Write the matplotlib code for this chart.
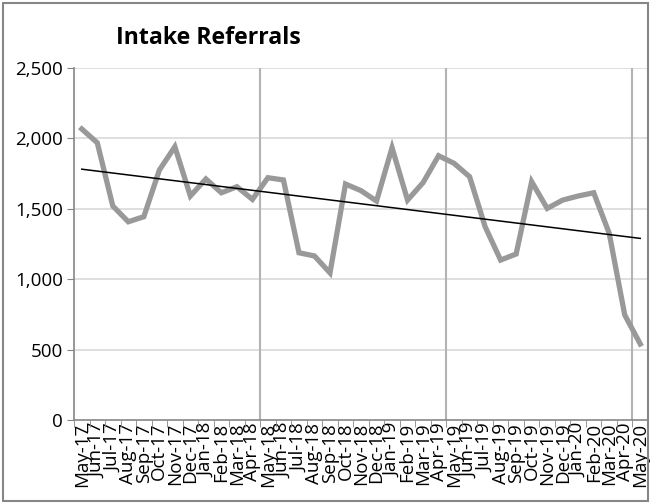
import numpy as np
import matplotlib
matplotlib.use("Agg")
import matplotlib.pyplot as plt
from matplotlib.patches import Rectangle

# monthly intake referrals, May-17 .. May-20
months = ["May-17", "Jun-17", "Jul-17", "Aug-17", "Sep-17", "Oct-17", "Nov-17", "Dec-17",
          "Jan-18", "Feb-18", "Mar-18", "Apr-18", "May-18", "Jun-18", "Jul-18", "Aug-18",
          "Sep-18", "Oct-18", "Nov-18", "Dec-18", "Jan-19", "Feb-19", "Mar-19", "Apr-19",
          "May-19", "Jun-19", "Jul-19", "Aug-19", "Sep-19", "Oct-19", "Nov-19", "Dec-19",
          "Jan-20", "Feb-20", "Mar-20", "Apr-20", "May-20"]
referrals = [2067, 1969, 1520, 1408, 1444, 1775, 1941, 1591,
             1712, 1614, 1657, 1567, 1721, 1705, 1188, 1165,
             1045, 1676, 1629, 1555, 1934, 1562, 1686, 1877,
             1823, 1728, 1373, 1136, 1179, 1693, 1503, 1562,
             1591, 1614, 1326, 746, 540]
y_ticks = [0, 500, 1000, 1500, 2000, 2500]

plt.rcParams["font.family"] = ["Open Sans", "DejaVu Sans"]

fig = plt.figure(figsize=(6.51, 5.04), dpi=100)
ax = fig.add_axes([0.1137, 0.1667, 0.8817, 0.6983])

x = np.arange(len(months))
ax.plot(x, referrals, color="#999999", lw=3.8, solid_joinstyle="miter", zorder=3)

# linear trend line over the series
k, b = np.polyfit(x, referrals, 1)
ax.plot(x, k * x + b, color="black", lw=1.1, zorder=4)

ax.set_xlim(-0.5, len(months) - 0.5)
ax.set_ylim(0, 2500)
ax.set_yticks(y_ticks)
ax.set_yticklabels([f"{v:,}" for v in y_ticks], fontsize=13.5)

# category labels at centres, tick marks at the boundaries (Excel style)
ax.set_xticks(x)
ax.set_xticklabels(months, rotation=90, fontsize=13.5)
ax.tick_params(axis="x", which="major", length=0, pad=2)
ax.set_xticks(np.arange(-0.5, len(months)), minor=True)
ax.tick_params(axis="x", which="minor", length=5, color="#868686", direction="out")
ax.tick_params(axis="y", length=5, color="#868686", direction="out", pad=3)

for v in y_ticks[1:]:
    ax.axhline(v, color="#d9d9d9", lw=1.2, zorder=1)
for v in (11.5, 23.5, 35.5):
    ax.axvline(v, color="#b3b3b3", lw=1.5, zorder=1)

for side in ("top", "right"):
    ax.spines[side].set_visible(False)
for side in ("left", "bottom"):
    ax.spines[side].set_color("#868686")
    ax.spines[side].set_linewidth(1.2)

fig.text(0.178, 0.925, "Intake Referrals", fontsize=16.7, fontweight="bold", va="center")
fig.patches.append(Rectangle((0.004, 0.006), 0.992, 0.988, transform=fig.transFigure,
                             fill=False, edgecolor="#868686", lw=1.5))

fig.savefig("out.png", dpi=100)
